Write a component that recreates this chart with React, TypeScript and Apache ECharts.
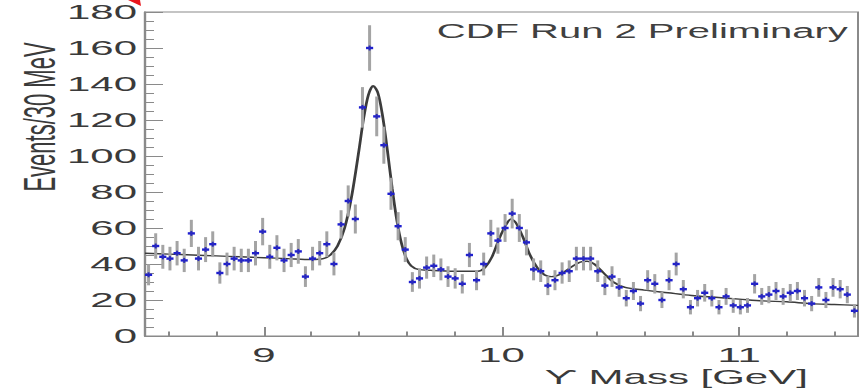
import React, { useEffect, useRef } from "react";
import * as echarts from "echarts";

// Histogram binning: 100 bins of 30 MeV from 8.5 to 11.5 GeV
const HIST_MIN = 8.5;
const HIST_MAX = 11.5;
const BIN_WIDTH = 0.03;

// Events per bin
const counts: number[] = [
  34, 50, 44, 43, 46, 42, 57, 43, 48, 51,
  35, 40, 43, 42, 42, 46, 58, 44, 49, 42,
  45, 47, 33, 43, 46, 51, 40, 62, 75, 65,
  127, 160, 122, 106, 79, 61, 48, 30, 32, 38,
  39, 37, 33, 32, 29, 45, 31, 40, 57, 53,
  60, 68, 60, 52, 37, 36, 28, 31, 35, 36,
  43, 43, 43, 36, 28, 33, 27, 21, 25, 18,
  31, 29, 20, 31, 40, 26, 16, 21, 24, 21,
  16, 22, 17, 16, 17, 29, 22, 23, 25, 22,
  24, 25, 21, 18, 27, 20, 27, 26, 23, 14,
];

// Fit curve (mass in GeV, events per bin)
const fitMass: number[] = [
  8.5, 8.6, 8.7, 8.8, 8.9, 9.0, 9.1, 9.2, 9.25, 9.28, 9.31, 9.34, 9.37, 9.4,
  9.42, 9.44, 9.46, 9.48, 9.5, 9.52, 9.54, 9.56, 9.58, 9.6, 9.62, 9.65, 9.7,
  9.8, 9.9, 9.93, 9.96, 9.99, 10.02, 10.04, 10.06, 10.09, 10.12, 10.15, 10.18,
  10.21, 10.25, 10.29, 10.33, 10.36, 10.39, 10.43, 10.47, 10.52, 10.6, 10.7,
  10.8, 10.9, 11.0, 11.1, 11.2, 11.3, 11.4, 11.5,
];
const fitValue: number[] = [
  46, 45.5, 45, 44.5, 44, 43.5, 43, 42.5, 43, 45, 50, 60, 78, 103,
  121, 134, 139, 135, 122, 103, 82, 64, 51, 43, 39, 37, 36.5,
  36, 36, 38, 44, 54, 62, 65, 63, 55, 45, 38, 34,
  33, 34.5, 38, 41, 41.5, 40, 35, 30, 27, 25.5, 24,
  22.5, 21.5, 20.5, 19.5, 19, 18, 17.5, 17,
];

const xLabelValues: number[] = [9, 10, 11];
const xMinorValues: number[] = [8.6, 8.8, 9.2, 9.4, 9.6, 9.8, 10.2, 10.4, 10.6, 10.8, 11.2, 11.4];

const X_TITLE = "ϒ Mass [GeV]";
const Y_TITLE = "Events/30 MeV";
const TAG = "CDF Run 2 Preliminary";

const FONT = "'Liberation Sans', Arial, Helvetica, sans-serif";
const AXIS_GREY = "#8a8a8a";
const TEXT = "#3a3a3a";

export default function App() {
  const ref = useRef<HTMLDivElement>(null);

  useEffect(() => {
    if (!ref.current) return;
    const chart = echarts.init(ref.current, null, { renderer: "svg" });

    const points = counts.map((n, i) => [
      HIST_MIN + BIN_WIDTH * (i + 0.5),
      n,
      Math.sqrt(n),
    ]);
    const fit = fitMass.map((m, i) => [m, fitValue[i]]);

    const grid = { left: 72.5, right: 2, top: 12, bottom: 52 };

    chart.setOption({
      animation: false,
      backgroundColor: "#ffffff",
      grid: { ...grid, show: true, borderColor: AXIS_GREY, borderWidth: 1, backgroundColor: "transparent" },
      xAxis: [
        {
          type: "value",
          min: HIST_MIN,
          max: HIST_MAX,
          axisLine: { show: true, lineStyle: { color: AXIS_GREY, width: 1.2 } },
          axisTick: {
            show: true,
            inside: true,
            length: 9,
            customValues: xLabelValues,
            lineStyle: { color: AXIS_GREY, width: 1 },
          },
          axisLabel: {
            show: true,
            customValues: xLabelValues,
            margin: 10,
            fontSize: 21,
            lineHeight: 17,
            fontFamily: FONT,
            color: TEXT,
          },
          splitLine: { show: false },
        },
        {
          type: "value",
          min: HIST_MIN,
          max: HIST_MAX,
          position: "bottom",
          axisLine: { show: false },
          axisTick: {
            show: true,
            inside: true,
            length: 4.5,
            customValues: xMinorValues,
            lineStyle: { color: AXIS_GREY, width: 1 },
          },
          axisLabel: { show: false },
          splitLine: { show: false },
        },
      ],
      yAxis: {
        type: "value",
        min: 0,
        max: 180,
        interval: 20,
        axisLine: { show: true, lineStyle: { color: AXIS_GREY, width: 1.2 } },
        axisTick: { show: true, inside: true, length: 9, lineStyle: { color: AXIS_GREY, width: 1 } },
        minorTick: { show: true, splitNumber: 4, length: 4.5, lineStyle: { color: AXIS_GREY, width: 1 } },
        axisLabel: { margin: 4, fontSize: 21, fontFamily: FONT, color: TEXT },
        splitLine: { show: false },
      },
      series: [
        {
          type: "line",
          data: fit,
          smooth: 0.3,
          symbol: "none",
          z: 2,
          lineStyle: { color: "#3c3c3c", width: 1.4 },
        },
        {
          type: "custom",
          data: points,
          z: 3,
          renderItem: (_params: any, api: any) => {
            const m = api.value(0);
            const n = api.value(1);
            const e = api.value(2);
            const c = api.coord([m, n]);
            const hi = api.coord([m, n + e]);
            const lo = api.coord([m, Math.max(0, n - e)]);
            const half = api.size([BIN_WIDTH, 0])[0] / 2;
            return {
              type: "group",
              children: [
                {
                  type: "line",
                  shape: { x1: c[0], y1: hi[1], x2: c[0], y2: lo[1] },
                  style: { stroke: "#a4a4a4", lineWidth: 1.5 },
                },
                {
                  type: "line",
                  shape: { x1: c[0] - half, y1: c[1], x2: c[0] + half, y2: c[1] },
                  style: { stroke: "#1f1fd0", lineWidth: 2.4 },
                },
                {
                  type: "line",
                  shape: { x1: c[0], y1: c[1] - 2.5, x2: c[0], y2: c[1] + 2.5 },
                  style: { stroke: "#2a2ab8", lineWidth: 1 },
                },
              ],
            };
          },
        },
      ],
      graphic: [
        {
          type: "text",
          right: 7,
          top: 21,
          style: { text: TAG, fontSize: 20, fontFamily: FONT, fill: "#404040" },
        },
        {
          type: "text",
          right: 27,
          top: 366,
          style: { text: X_TITLE, fontSize: 21, lineHeight: 19, fontFamily: FONT, fill: TEXT },
        },
        {
          type: "text",
          x: 20,
          y: 117,
          rotation: Math.PI / 2,
          style: {
            text: Y_TITLE,
            fontSize: 22,
            fontFamily: FONT,
            fill: TEXT,
            align: "center",
            verticalAlign: "middle",
          },
        },
        {
          type: "polygon",
          shape: { points: [[64, 0], [70, 0], [70.5, 6]] },
          style: { fill: "#e8141c" },
        },
      ],
    });

    return () => chart.dispose();
  }, []);

  return (
    <div
      ref={ref}
      style={{
        position: "fixed",
        left: 0,
        top: 0,
        width: 431,
        height: 388,
        transform: "scaleX(2)",
        transformOrigin: "0 0",
        background: "#ffffff",
      }}
    />
  );
}
